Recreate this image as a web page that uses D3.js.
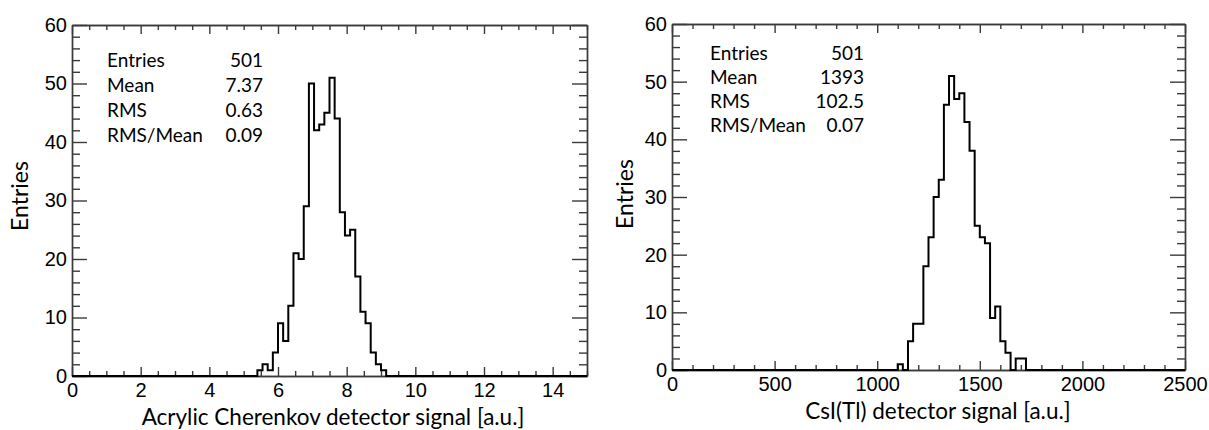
<!DOCTYPE html>
<html>
<head>
<meta charset="utf-8">
<script src="https://cdn.jsdelivr.net/npm/d3@7"></script>
<style>
  body { margin: 0; background: #fff; }
  svg { display: block; }
  .tick text { font-family: "Liberation Sans", Arial, sans-serif; font-size: 20px; fill: #000; }
  .domain, .tick line { stroke: #3a3a3a; stroke-width: 1.4; }
  .stat, .title { font-family: Lato, "Open Sans", sans-serif; fill: #000; }
</style>
</head>
<body>
<svg id="chart" width="1209" height="430"></svg>
<script>
// Cherenkov: 100 bins over [0, 15], counts listed from the first filled bin
var cherenkovStart = 5.4
var cherenkovCounts = [1, 2, 1, 4, 9, 6, 12, 21, 20, 29, 50, 42, 43, 45, 51, 44, 28, 24, 25, 17, 11, 9, 4, 2, 1]
var cherenkovStats = [['Entries', '501'], ['Mean', '7.37'], ['RMS', '0.63'], ['RMS/Mean', '0.09']]

// CsI(Tl): 100 bins over [0, 2500]
var csiStart = 1100
var csiCounts = [1, 0, 5, 8, 8, 18, 23, 30, 33, 46, 51, 47, 48, 43, 38, 25, 23, 22, 9, 11, 5, 3, 0, 2, 2]
var csiStats = [['Entries', '501'], ['Mean', '1393'], ['RMS', '102.5'], ['RMS/Mean', '0.07']]

var yMajor = [0, 10, 20, 30, 40, 50, 60]

var svg = d3.select('#chart')

var panels = [
    {
        xmax: 15, nbins: 100, start: cherenkovStart, counts: cherenkovCounts, stats: cherenkovStats,
        left: 72, right: 587, top: 25, bottom: 376,
        major: d3.range(0, 15, 2), minor: d3.range(0, 15.01, 0.5),
        title: 'Acrylic Cherenkov detector signal [a.u.]', titleX: 333, titleY: 425,
        yTitleX: 28, yTitleY: 196,
        statX: 107, statR: 263, statY: 67, statDy: 25
    },
    {
        xmax: 2500, nbins: 100, start: csiStart, counts: csiCounts, stats: csiStats,
        left: 672, right: 1185, top: 24, bottom: 370,
        major: d3.range(0, 2501, 500), minor: d3.range(0, 2501, 100),
        title: 'CsI(Tl) detector signal [a.u.]', titleX: 938, titleY: 419,
        yTitleX: 633, yTitleY: 194,
        statX: 710, statR: 864, statY: 60, statDy: 24
    }
]

panels.forEach(function (p) {
    var x = d3.scaleLinear().domain([0, p.xmax]).range([p.left, p.right])
    var y = d3.scaleLinear().domain([0, 60]).range([p.bottom, p.top])
    var g = svg.append('g')

    // minor ticks first, then the labelled axes on top
    var minorX = p.minor.filter(function (v) { return p.major.indexOf(v) < 0 })
    var minorY = d3.range(0, 61, 2).filter(function (v) { return v % 10 != 0 })

    g.append('g').attr('transform', 'translate(0,' + p.bottom + ')')
        .call(d3.axisBottom(x).tickValues(minorX).tickSize(-5).tickSizeOuter(0).tickFormat(''))
    g.append('g').attr('transform', 'translate(0,' + p.top + ')')
        .call(d3.axisTop(x).tickValues(minorX).tickSize(-5).tickSizeOuter(0).tickFormat(''))
    g.append('g').attr('transform', 'translate(' + p.left + ',0)')
        .call(d3.axisLeft(y).tickValues(minorY).tickSize(-8).tickSizeOuter(0).tickFormat(''))
    g.append('g').attr('transform', 'translate(' + p.right + ',0)')
        .call(d3.axisRight(y).tickValues(minorY).tickSize(-8).tickSizeOuter(0).tickFormat(''))

    g.append('g').attr('transform', 'translate(0,' + p.bottom + ')')
        .call(d3.axisBottom(x).tickValues(p.major).tickSize(-9).tickSizeOuter(0).tickPadding(7).tickFormat(d3.format('d')))
    g.append('g').attr('transform', 'translate(0,' + p.top + ')')
        .call(d3.axisTop(x).tickValues(p.major).tickSize(-9).tickSizeOuter(0).tickFormat(''))
    g.append('g').attr('transform', 'translate(' + p.left + ',0)')
        .call(d3.axisLeft(y).tickValues(yMajor).tickSize(-15).tickSizeOuter(0).tickPadding(5).tickFormat(d3.format('d')))
    g.append('g').attr('transform', 'translate(' + p.right + ',0)')
        .call(d3.axisRight(y).tickValues(yMajor).tickSize(-15).tickSizeOuter(0).tickFormat(''))

    // full histogram, zero bins included
    var w = p.xmax / p.nbins
    var first = Math.round(p.start / w)
    var bins = d3.range(p.nbins).map(function (i) {
        var k = i - first
        return { x0: i * w, n: (k >= 0 && k < p.counts.length) ? p.counts[k] : 0 }
    })
    var pts = [[0, 0]]
    bins.forEach(function (b) { pts.push([b.x0, b.n]) })
    pts.push([p.xmax, bins[bins.length - 1].n])
    pts.push([p.xmax, 0])
    var line = d3.line()
        .x(function (d) { return x(d[0]) })
        .y(function (d) { return y(d[1]) })
        .curve(d3.curveStepAfter)
    g.append('path')
        .attr('d', line(pts))
        .attr('fill', 'none')
        .attr('stroke', '#000')
        .attr('stroke-width', 2)

    // stats block
    p.stats.forEach(function (s, i) {
        g.append('text').attr('class', 'stat')
            .attr('x', p.statX).attr('y', p.statY + i * p.statDy)
            .style('font-size', '19px')
            .text(s[0])
        g.append('text').attr('class', 'stat')
            .attr('x', p.statR).attr('y', p.statY + i * p.statDy)
            .attr('text-anchor', 'end')
            .style('font-size', '19px')
            .text(s[1])
    })

    g.append('text').attr('class', 'title')
        .attr('x', p.titleX).attr('y', p.titleY)
        .attr('text-anchor', 'middle')
        .style('font-size', '22.5px')
        .text(p.title)
    g.append('text').attr('class', 'title')
        .attr('transform', 'translate(' + p.yTitleX + ',' + p.yTitleY + ') rotate(-90)')
        .attr('text-anchor', 'middle')
        .style('font-size', '23px')
        .text('Entries')
})
</script>
</body>
</html>
